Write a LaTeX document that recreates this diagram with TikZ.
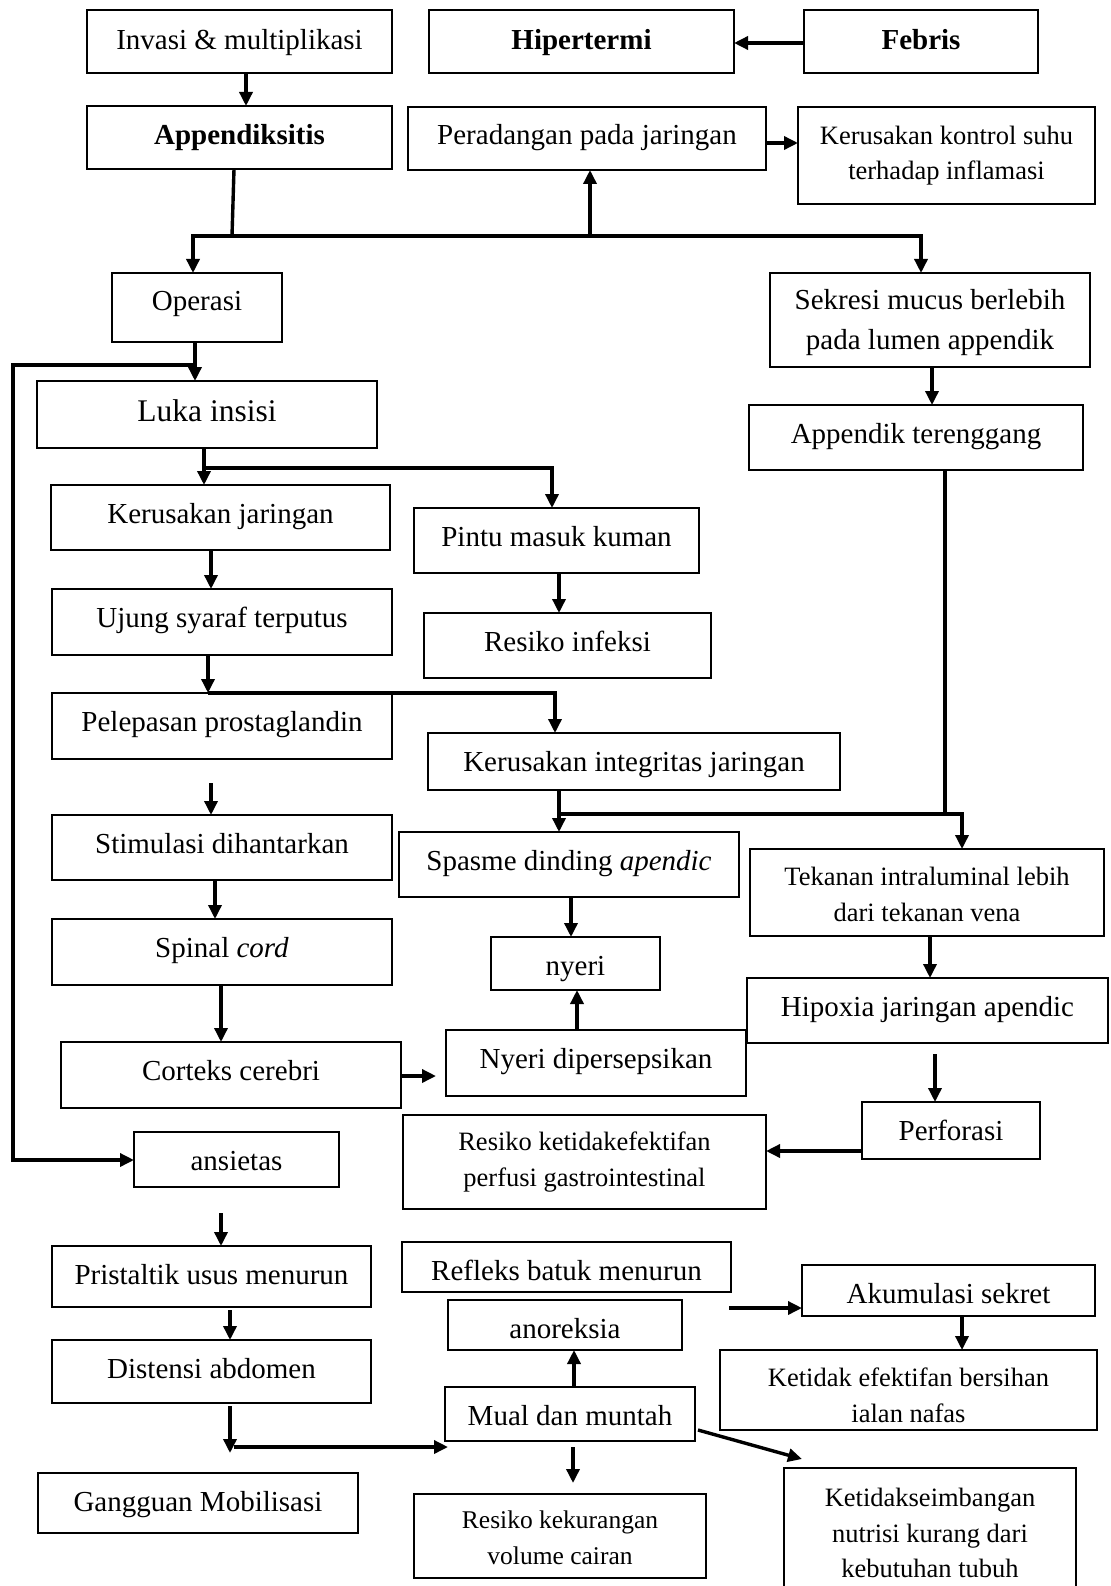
\documentclass[tikz,border=0pt]{standalone}
\usepackage{fontspec}
\setmainfont{Liberation Serif}
\usetikzlibrary{arrows.meta}
\newcommand\fnorm{\fontsize{29}{35}\selectfont}
\newcommand\fbig{\fontsize{31.5}{37}\selectfont}
\newcommand\fsek{\fontsize{29}{39.5}\selectfont}
\newcommand\fsmall{\fontsize{26.5}{35.4}\selectfont}
\newcommand\mkbox[7][]{\node[bx,#1,minimum width={(#5-#3)*1pt},minimum height={(#6-#4)*1pt}] (#2) at ({(#3+#5)/2},{(#4+#6)/2}) {#7};}
\newcommand\mkone[7][]{\pgfmathsetmacro\myTH{83.5-(#6-#4)}\node[bx,font=\fnorm,text depth=7.5pt,text height=\myTH pt,#1,minimum width={(#5-#3)*1pt},minimum height={(#6-#4)*1pt}] (#2) at ({(#3+#5)/2},{(#4+#6)/2}) {#7};}
\begin{document}
\begin{tikzpicture}[x=1pt,y=-1pt,
  bx/.style={draw,line width=2.4pt,inner sep=0pt,outer sep=0pt,align=center},
  two/.style={font=\fsmall},
  ln/.style={line width=3.4pt},
  ar/.style={line width=3.4pt,-{Triangle[length=14pt,width=13pt]}}]
\fill[white] (0,0) rectangle (1110,1586);
\useasboundingbox (0,0) rectangle (1110,1586);
% boxes
\mkone[text height=24.5pt]{inv}{87}{10}{392}{73}{Invasi \& multiplikasi}
\mkone[font=\fnorm\bfseries,text height=24.5pt]{hip}{429}{10}{734}{73}{Hipertermi}
\mkone[font=\fnorm\bfseries,text height=24.5pt]{feb}{804}{10}{1038}{73}{Febris}
\mkone[font=\fnorm\bfseries,text height=22.5pt]{app}{87}{106}{392}{169}{Appendiksitis}
\mkone{per}{408}{107}{766}{170}{Peradangan pada jaringan}
\mkbox[two]{kks}{798}{107}{1095}{204}{Kerusakan kontrol suhu\\terhadap inflamasi}
\mkone{ope}{112}{273}{282}{342}{Operasi}
\mkbox[font=\fsek]{sek}{770}{273}{1090}{367}{\rule{0pt}{25.6pt}Sekresi mucus berlebih\\pada lumen appendik}
\node[bx,font=\fbig,minimum width=340pt,minimum height=67pt,text height=21.2pt,text depth=8.2pt] (luk) at (207,414.5) {Luka insisi};
\mkone{ter}{749}{405}{1083}{470}{Appendik terenggang}
\mkone{kj}{51}{485}{390}{550}{Kerusakan jaringan}
\mkone{pin}{414}{508}{699}{573}{Pintu masuk kuman}
\mkone{uju}{52}{589}{392}{655}{Ujung syaraf terputus}
\mkone{inf}{424}{613}{711}{678}{Resiko infeksi}
\mkone{pel}{52}{693}{392}{759}{Pelepasan prostaglandin}
\mkone{kin}{428}{733}{840}{790}{Kerusakan integritas jaringan}
\mkone{sti}{52}{815}{392}{880}{Stimulasi dihantarkan}
\mkone{spa}{399}{832}{739}{897}{Spasme dinding \textit{apendic}}
\mkbox[two]{tek}{750}{849}{1104}{936}{\rule{0pt}{22pt}Tekanan intraluminal lebih\\dari tekanan vena}
\mkone{spi}{52}{919}{392}{985}{Spinal \textit{cord}}
\mkone{nye}{491}{937}{660}{990}{nyeri}
\mkone{hpx}{747}{978}{1108}{1043}{Hipoxia jaringan apendic}
\mkone{cor}{61}{1042}{401}{1108}{Corteks cerebri}
\mkone{ndp}{446}{1030}{746}{1096}{Nyeri dipersepsikan}
\mkone{prf}{862}{1102}{1040}{1159}{Perforasi}
\mkbox[two]{rkp}{403}{1115}{766}{1209}{Resiko ketidakefektifan\\perfusi gastrointestinal}
\mkone{ans}{134}{1132}{339}{1187}{ansietas}
\mkone{pri}{52}{1246}{371}{1307}{Pristaltik usus menurun}
\mkone{ref}{402}{1242}{731}{1292}{Refleks batuk menurun}
\mkone{ano}{448}{1300}{682}{1350}{anoreksia}
\mkone{dis}{52}{1340}{371}{1403}{Distensi abdomen}
\mkone{aku}{802}{1265}{1095}{1316}{Akumulasi sekret}
\mkbox[two]{kef}{720}{1350}{1097}{1430}{\rule{0pt}{29pt}Ketidak efektifan bersihan\\ialan nafas}
\mkone{mua}{445}{1387}{695}{1441}{Mual dan muntah}
\mkone{gan}{38}{1473}{358}{1533}{Gangguan Mobilisasi}
\mkbox[font=\fontsize{25.5}{35.4}\selectfont]{rkv}{414}{1494}{706}{1578}{\rule{0pt}{21.3pt}Resiko kekurangan\\volume cairan}
\mkbox[two]{kse}{784}{1468}{1076}{1598}{Ketidakseimbangan\\nutrisi kurang dari\\kebutuhan tubuh}
% coordinates
\coordinate (v1) at (246,0);
\coordinate (h1) at (0,43);
\coordinate (h2) at (0,143);
\coordinate (a0) at (234,169);
\coordinate (a1) at (232,236);
\coordinate (a2) at (193,236);
\coordinate (a3) at (921,236);
\coordinate (a4) at (590,236);
\coordinate (v2) at (932,0);
\coordinate (v3) at (195,0);
\coordinate (b1) at (195,365);
\coordinate (b2) at (13,365);
\coordinate (b3) at (13,1160);
\coordinate (c1) at (204,468);
\coordinate (c2) at (552,468);
\coordinate (v4) at (211,0);
\coordinate (d1) at (208,693);
\coordinate (d2) at (555,693);
\coordinate (e1) at (211,783);
\coordinate (v5) at (559,0);
\coordinate (f1) at (559,814);
\coordinate (f2) at (962,814);
\coordinate (f3) at (945,812);
\coordinate (v6) at (215,0);
\coordinate (v7) at (221,0);
\coordinate (g1) at (436,1076);
\coordinate (v8) at (571,0);
\coordinate (v9) at (577,0);
\coordinate (v10) at (930,0);
\coordinate (hh3) at (935,1054);
\coordinate (h4) at (0,1151);
\coordinate (i1) at (221,1213);
\coordinate (i2) at (230,1310);
\coordinate (i3) at (230,1406);
\coordinate (i4) at (230,1453);
\coordinate (i5) at (234,1447);
\coordinate (i6) at (448,1447);
\coordinate (k1) at (729,1308);
\coordinate (v11) at (962,0);
\coordinate (v12) at (574,0);
\coordinate (m1) at (573,1447);
\coordinate (m2) at (573,1483);
\coordinate (m3) at (698,1430);
\coordinate (m4) at (802,1459);
% connectors
\draw[ar] (inv.south -| v1) -- (app.north -| v1);
\draw[ar] (feb.west |- h1) -- (hip.east |- h1);
\draw[ar] (per.east |- h2) -- (kks.west |- h2);
\draw[ln] (app.south -| a0) -- (a1);
\draw[ar] (a1) -- (a2) -- (a2 |- ope.north);
\draw[ar] (a1) -- (a3) -- (a3 |- sek.north);
\draw[ar] (a4) -- (a4 |- per.south);
\draw[ar] (sek.south -| v2) -- (ter.north -| v2);
\draw[ar] (ope.south -| v3) -- (luk.north -| v3);
\draw[ar] (b1) -- (b2) -- (b3) -- (b3 -| ans.west);
\draw[ln] (luk.south -| c1) -- (c1);
\draw[ar] (c1) -- (c1 |- kj.north);
\draw[ar] (c1) -- (c2) -- (c2 |- pin.north);
\draw[ar] (kj.south -| v4) -- (uju.north -| v4);
\draw[ar] (uju.south -| d1) -- (d1);
\draw[ar] (d1) -- (d2) -- (d2 |- kin.north);
\draw[ar] (e1) -- (e1 |- sti.north);
\draw[ar] (pin.south -| v5) -- (inf.north -| v5);
\draw[ar] (kin.south -| v5) -- (spa.north -| v5);
\draw[ar] (f1) -- (f2) -- (f2 |- tek.north);
\draw[ln] (ter.south -| f3) -- (f3);
\draw[ar] (sti.south -| v6) -- (spi.north -| v6);
\draw[ar] (spi.south -| v7) -- (cor.north -| v7);
\draw[ar] (cor.east |- g1) -- (g1);
\draw[ar] (spa.south -| v8) -- (nye.north -| v8);
\draw[ar] (ndp.north -| v9) -- (nye.south -| v9);
\draw[ar] (tek.south -| v10) -- (hpx.north -| v10);
\draw[ar] (hh3) -- (hh3 |- prf.north);
\draw[ar] (prf.west |- h4) -- (rkp.east |- h4);
\draw[ar] (i1) -- (i1 |- pri.north);
\draw[ar] (i2) -- (i2 |- dis.north);
\draw[ar] (i3) -- (i4);
\draw[ar] (i5) -- (i6);
\draw[ar] (k1) -- (aku.west |- k1);
\draw[ar] (aku.south -| v11) -- (kef.north -| v11);
\draw[ar] (mua.north -| v12) -- (ano.south -| v12);
\draw[ar] (m1) -- (m2);
\draw[ar] (m3) -- (m4);
\end{tikzpicture}
\end{document}
